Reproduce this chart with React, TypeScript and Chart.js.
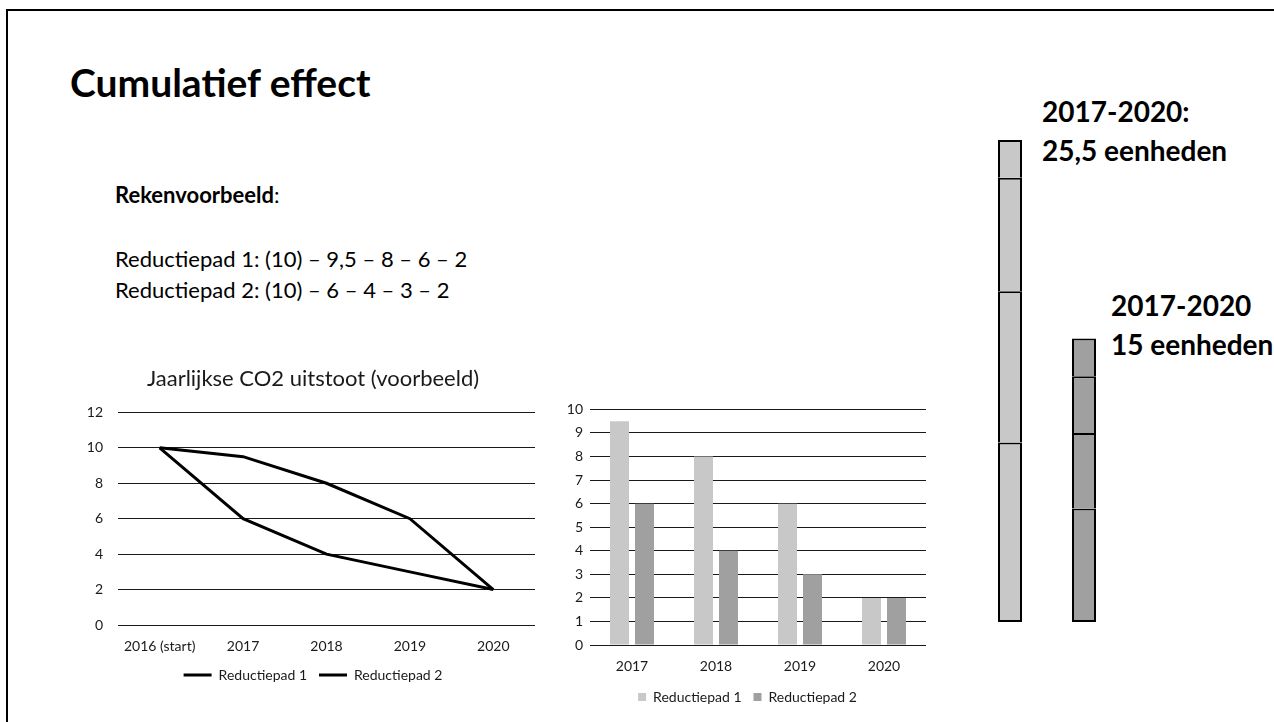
import React, { useEffect, useRef } from 'react';
import { Chart, registerables } from 'chart.js';

Chart.register(...registerables);

// ---------- data ----------
const startLabel = '2016 (start)';
const years = ['2017', '2018', '2019', '2020'];
const startValue = 10;
const path1 = [9.5, 8, 6, 2];
const path2 = [6, 4, 3, 2];
const seriesNames = ['Reductiepad 1', 'Reductiepad 2'];
const lineTitle = 'Jaarlijkse CO2 uitstoot (voorbeeld)';
const lineYMax = 12;
const lineYStep = 2;
const barYMax = 10;
const barYStep = 1;
const slideTitle = 'Cumulatief effect';
const exampleLabel = 'Rekenvoorbeeld';
const unitWord = 'eenheden';

// ---------- style ----------
const FONT = 'Lato, "Open Sans", sans-serif';
const LIGHT = '#c8c8c8';
const DARK = '#a0a0a0';
const GRID = '#1a1a1a';
const TXT = '#1a1a1a';

const fmt = (v: number) => String(v).replace('.', ',');
const sum = (a: number[]) => a.reduce((s, v) => s + v, 0);
const period = `${years[0]}-${years[years.length - 1]}`;

function useChart(makeConfig: () => any) {
  const ref = useRef<HTMLCanvasElement | null>(null);
  useEffect(() => {
    if (!ref.current) return;
    const chart = new Chart(ref.current, makeConfig());
    return () => chart.destroy();
  }, []);
  return ref;
}

const spacer = (w: number) => ({
  position: 'right',
  display: true,
  grid: { display: false, drawTicks: false },
  border: { display: false },
  ticks: { display: false },
  afterFit: (s: any) => { s.width = w; },
});

function LineChart() {
  const ref = useChart(() => ({
    type: 'line',
    data: {
      labels: [startLabel, ...years],
      datasets: [path1, path2].map((p, i) => ({
        label: seriesNames[i],
        data: [startValue, ...p],
        borderColor: '#000',
        backgroundColor: '#000',
        borderWidth: 3,
        pointRadius: 0,
        tension: 0,
        pointStyle: 'line',
        yAxisID: 'y',
      })),
    },
    options: {
      responsive: false,
      animation: false,
      layout: { padding: 0 },
      plugins: {
        title: {
          display: true,
          text: lineTitle,
          font: { family: FONT, size: 22, weight: 'normal' },
          color: TXT,
          padding: { top: 4, bottom: 20 },
        },
        legend: {
          position: 'bottom',
          labels: {
            usePointStyle: true,
            pointStyle: 'line',
            pointStyleWidth: 28,
            font: { family: FONT, size: 14 },
            color: TXT,
            padding: 12,
          },
        },
        tooltip: { enabled: false },
      },
      scales: {
        x: {
          offset: true,
          grid: { display: false, drawTicks: false },
          border: { display: false },
          ticks: { font: { family: FONT, size: 14 }, color: TXT, padding: 13 },
          afterFit: (s: any) => { s.height = 31; },
        },
        y: {
          min: 0,
          max: lineYMax,
          ticks: { stepSize: lineYStep, font: { family: FONT, size: 14 }, color: TXT, padding: 15 },
          grid: { color: GRID, drawTicks: false },
          border: { display: false },
          afterFit: (s: any) => { s.width = 58; },
        },
        yR: spacer(31),
      },
    },
  }));
  return <canvas ref={ref} width={506} height={330} style={{ position: 'absolute', left: 60, top: 362 }} />;
}

function BarChart() {
  const ref = useChart(() => ({
    type: 'bar',
    data: {
      labels: years,
      datasets: [path1, path2].map((p, i) => ({
        label: seriesNames[i],
        data: p,
        backgroundColor: i === 0 ? LIGHT : DARK,
        borderWidth: 0,
        categoryPercentage: 0.595,
        barPercentage: 0.76,
        yAxisID: 'y',
      })),
    },
    options: {
      responsive: false,
      animation: false,
      layout: { padding: 0 },
      plugins: {
        legend: {
          position: 'bottom',
          labels: {
            boxWidth: 8,
            boxHeight: 8,
            font: { family: FONT, size: 14 },
            color: TXT,
            padding: 12,
          },
        },
        tooltip: { enabled: false },
      },
      scales: {
        x: {
          grid: { display: false, drawTicks: false },
          border: { display: false },
          ticks: { font: { family: FONT, size: 14 }, color: TXT, padding: 13 },
          afterFit: (s: any) => { s.height = 33; },
        },
        y: {
          min: 0,
          max: barYMax,
          ticks: { stepSize: barYStep, font: { family: FONT, size: 14 }, color: TXT, padding: 7 },
          grid: { color: GRID, drawTicks: false },
          border: { display: false },
          afterFit: (s: any) => { s.width = 50; },
        },
        yR: spacer(29),
      },
    },
  }));
  return <canvas ref={ref} width={415} height={320} style={{ position: 'absolute', left: 540, top: 394 }} />;
}

function CumulativeChart() {
  const ref = useChart(() => ({
    type: 'bar',
    data: {
      labels: seriesNames,
      datasets: years.map((y, i) => ({
        label: y,
        data: [path1[i], path2[i]],
        backgroundColor: [LIGHT, DARK],
        borderColor: '#000',
        borderWidth: { left: 2, right: 2, top: 2, bottom: i === 0 ? 2 : 0 },
        borderSkipped: false,
        categoryPercentage: 1,
        barPercentage: 24 / 74,
      })),
    },
    options: {
      responsive: false,
      animation: false,
      layout: { padding: { left: 0, right: 0, top: 10, bottom: 8 } },
      plugins: { legend: { display: false }, tooltip: { enabled: false } },
      scales: {
        x: { stacked: true, display: false },
        y: { stacked: true, display: false, min: 0, max: Math.max(sum(path1), sum(path2)) },
      },
    },
  }));
  return <canvas ref={ref} width={148} height={500} style={{ position: 'absolute', left: 973, top: 130 }} />;
}

const abs = (left: number, top: number, size: number, bold = false): React.CSSProperties => ({
  position: 'absolute',
  left,
  top,
  fontSize: size,
  lineHeight: 1,
  fontWeight: bold ? 700 : 400,
  whiteSpace: 'nowrap',
  fontFamily: FONT,
  color: '#000',
});

export default function App() {
  return (
    <div style={{ position: 'fixed', left: 0, top: 0, width: 1274, height: 722, overflow: 'hidden', background: '#fff' }}>
      <div style={{ position: 'absolute', left: 6, top: 9, width: 1400, height: 900, border: '2px solid #000', boxSizing: 'border-box' }} />
      <div style={abs(70, 63, 39, true)}>{slideTitle}</div>
      <div style={abs(115, 184, 22)}><b>{exampleLabel}</b>:</div>
      <div style={abs(115, 248, 22)}>{`${seriesNames[0]}: (${fmt(startValue)}) – ${path1.map(fmt).join(' – ')}`}</div>
      <div style={abs(115, 279, 22)}>{`${seriesNames[1]}: (${fmt(startValue)}) – ${path2.map(fmt).join(' – ')}`}</div>
      <div style={abs(1042, 97, 28, true)}>{`${period}:`}</div>
      <div style={abs(1042, 136, 28, true)}>{`${fmt(sum(path1))} ${unitWord}`}</div>
      <div style={abs(1111, 291, 28, true)}>{period}</div>
      <div style={abs(1111, 330, 28, true)}>{`${fmt(sum(path2))} ${unitWord}`}</div>
      <LineChart />
      <BarChart />
      <CumulativeChart />
    </div>
  );
}
